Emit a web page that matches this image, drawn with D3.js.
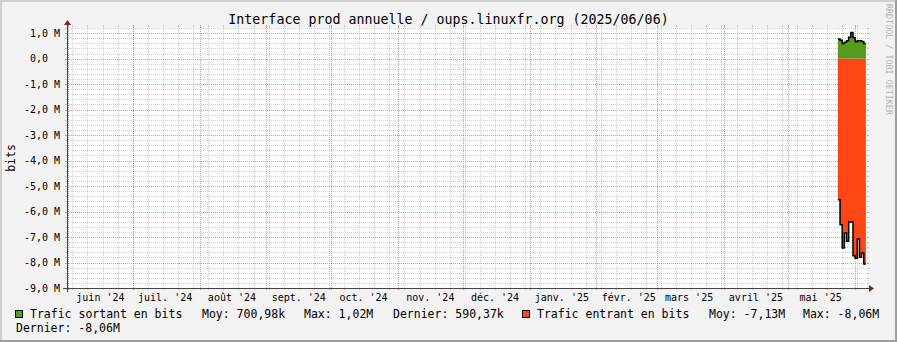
<!DOCTYPE html>
<html>
<head>
<meta charset="utf-8">
<script src="https://cdn.jsdelivr.net/npm/d3@7"></script>
<style>
body { margin: 0; background: #fff; }
svg { display: block; font-family: "DejaVu Sans Mono", monospace; }
text { white-space: pre; }
</style>
</head>
<body>
<script>
// daily samples (UTC dates), values in Mbit
var dates = ["2025-05-24", "2025-05-25", "2025-05-26", "2025-05-27", "2025-05-28", "2025-05-29",
    "2025-05-30", "2025-05-31", "2025-06-01", "2025-06-02", "2025-06-03", "2025-06-04", "2025-06-05"];
var sortant = [0.77, 0.72, 0.59, 0.64, 0.70, 0.84, 1.02, 0.83, 0.66, 0.70, 0.70, 0.67, 0.59];
var entrant = [-5.54, -6.52, -7.43, -6.84, -7.17, -6.41, -6.41, -7.73, -7.83, -7.08, -7.79, -7.63, -8.06];

var monthLabels = ["juin '24", "juil. '24", "août '24", "sept. '24", "oct. '24", "nov. '24",
    "déc. '24", "janv. '25", "févr. '25", "mars '25", "avril '25", "mai '25"];

var legend1 = [
    { x: 30, t: "Trafic sortant en bits" }, { x: 202, t: "Moy: 700,98k" },
    { x: 304, t: "Max: 1,02M" }, { x: 393, t: "Dernier: 590,37k" },
    { x: 537, t: "Trafic entrant en bits" }, { x: 709, t: "Moy: -7,13M" },
    { x: 803, t: "Max: -8,06M" }
];
var legend2 = [{ x: 16, t: "Dernier: -8,06M" }];

var W = 897, H = 342;
var X0 = 67, X1 = 867, Y0 = 288, Y1 = 27;

var parse = d3.utcParse("%Y-%m-%d");
var t0 = new Date(Date.UTC(2024, 4, 31, 12)),
    t1 = new Date(Date.UTC(2025, 5, 6, 12));

var xScale = d3.scaleUtc().domain([t0, t1]).range([X0, X1]);
var yScale = d3.scaleLinear().domain([-9e6, 1.24e6]).range([Y0, Y1]);

var svg = d3.select("body").append("svg")
    .attr("width", W).attr("height", H);

// background + frame
svg.append("rect").attr("width", W).attr("height", H).attr("fill", "#f2f2f2");
svg.append("rect").attr("x", 0).attr("y", 0).attr("width", W).attr("height", 2).attr("fill", "#cfcfcf");
svg.append("rect").attr("x", 0).attr("y", 0).attr("width", 2).attr("height", H).attr("fill", "#cfcfcf");
svg.append("rect").attr("x", W - 2).attr("y", 0).attr("width", 2).attr("height", H).attr("fill", "#9e9e9e");
svg.append("rect").attr("x", 0).attr("y", H - 2).attr("width", W).attr("height", 2).attr("fill", "#9e9e9e");

svg.append("rect").attr("x", X0).attr("y", Y1).attr("width", X1 - X0).attr("height", Y0 - Y1)
    .attr("fill", "#fff");

var grid = svg.append("g").attr("shape-rendering", "crispEdges");
var minorCol = "rgba(143,143,143,0.42)", majorCol = "rgba(222,79,79,0.6)";

// horizontal grid, every 0.2 M, major every 1 M
var hVals = d3.range(-45, 7).map(function (i) { return { v: i * 0.2e6, major: i % 5 === 0 }; });
hVals.forEach(function (d) {
    var py = Math.round(yScale(d.v)) + 0.5;
    var c = d.major ? majorCol : minorCol;
    grid.append("line").attr("x1", X0).attr("x2", X1).attr("y1", py).attr("y2", py)
        .attr("stroke", c).style("stroke-dasharray", "1,1");
    grid.append("line").attr("x1", X0 - 2).attr("x2", X0).attr("y1", py).attr("y2", py).attr("stroke", c);
    grid.append("line").attr("x1", X1).attr("x2", X1 + 2).attr("y1", py).attr("y2", py).attr("stroke", c);
});

// vertical grid: weekly (mondays) minor, monthly major
var weeks = d3.utcMonday.range(t0, t1);
var months = d3.utcMonth.range(t0, t1);
function vline(t, c) {
    var px = Math.round(xScale(t)) + 0.5;
    grid.append("line").attr("x1", px).attr("x2", px).attr("y1", Y1).attr("y2", Y0)
        .attr("stroke", c).style("stroke-dasharray", "1,1");
    grid.append("line").attr("x1", px).attr("x2", px).attr("y1", Y1 - 2).attr("y2", Y1).attr("stroke", c);
    grid.append("line").attr("x1", px).attr("x2", px).attr("y1", Y0).attr("y2", Y0 + 2).attr("stroke", c);
}
weeks.forEach(function (t) { vline(t, minorCol); });
months.forEach(function (t) { if (t > t0) vline(t, majorCol); });

// data
var outPts = dates.map(function (d, i) { return { t: parse(d), v: sortant[i] * 1e6 }; });
var inPts = dates.map(function (d, i) { return { t: parse(d), v: entrant[i] * 1e6 }; });
outPts.push({ t: d3.utcDay.offset(outPts[outPts.length - 1].t, 1), v: outPts[outPts.length - 1].v });
inPts.push({ t: d3.utcDay.offset(inPts[inPts.length - 1].t, 1), v: inPts[inPts.length - 1].v });

var area = d3.area()
    .x(function (d) { return xScale(d.t); })
    .y0(yScale(0))
    .y1(function (d) { return yScale(d.v); })
    .curve(d3.curveStepAfter);
var line = d3.line()
    .x(function (d) { return xScale(d.t); })
    .y(function (d) { return yScale(d.v); })
    .curve(d3.curveStepAfter);

svg.append("path").datum(inPts).attr("d", area).attr("fill", "#ff4614");
svg.append("path").datum(outPts).attr("d", area).attr("fill", "#569a1e");
svg.append("path").datum(outPts).attr("d", line).attr("fill", "none").attr("stroke", "#000").attr("stroke-width", 1.5);
svg.append("path").datum(inPts).attr("d", line).attr("fill", "none").attr("stroke", "#000").attr("stroke-width", 1.5);

// axes
var axis = svg.append("g").attr("shape-rendering", "crispEdges");
axis.append("line").attr("x1", X0 - 4).attr("x2", X1 + 4).attr("y1", Y0 + 0.5).attr("y2", Y0 + 0.5)
    .attr("stroke", "#444");
axis.append("line").attr("x1", X0 + 0.5).attr("x2", X0 + 0.5).attr("y1", Y0 + 4).attr("y2", Y1 - 4)
    .attr("stroke", "#444");
svg.append("path").attr("d", "M" + (X1 + 2) + "," + (Y0 - 3) + "L" + (X1 + 2) + "," + (Y0 + 4) + "L" + (X1 + 7) + "," + (Y0 + 0.5) + "Z")
    .attr("fill", "#801f1f");
svg.append("path").attr("d", "M" + (X0 - 3) + "," + (Y1 - 2) + "L" + (X0 + 4) + "," + (Y1 - 2) + "L" + (X0 + 0.5) + "," + (Y1 - 7) + "Z")
    .attr("fill", "#801f1f");

// y tick labels
hVals.filter(function (d) { return d.major; }).forEach(function (d) {
    var m = d.v / 1e6;
    var s = (m === 0) ? "0,0  " : m.toFixed(1).replace(".", ",") + " M";
    svg.append("text").attr("x", 60).attr("y", yScale(d.v) + 3.5)
        .attr("text-anchor", "end").style("font-size", "10px").attr("fill", "#000").text(s);
});

// x month labels, centred mid-month
months.forEach(function (t, i) {
    svg.append("text").attr("x", xScale(d3.utcDay.offset(t, 15))).attr("y", 301)
        .attr("text-anchor", "middle").style("font-size", "10px").text(monthLabels[i]);
});

// title
svg.append("text").attr("x", W / 2).attr("y", 23.5).attr("text-anchor", "middle")
    .style("font-size", "13.3px").text("Interface prod annuelle / oups.linuxfr.org (2025/06/06)");

// y label
svg.append("text").attr("transform", "translate(14.5,158) rotate(-90)").attr("text-anchor", "middle")
    .style("font-size", "11.5px").text("bits");

// watermark
svg.append("text").attr("transform", "translate(886,4) rotate(90)")
    .style("font-size", "8.4px").attr("fill", "rgba(0,0,0,0.3)").text("RRDTOOL / TOBI OETIKER");

// legend
svg.append("rect").attr("x", 15.5).attr("y", 310.5).attr("width", 7).attr("height", 7)
    .attr("fill", "#569a1e").attr("stroke", "#000");
svg.append("rect").attr("x", 522.5).attr("y", 310.5).attr("width", 7).attr("height", 7)
    .attr("fill", "#ff4614").attr("stroke", "#000");
legend1.forEach(function (d) {
    svg.append("text").attr("x", d.x).attr("y", 318).style("font-size", "11.5px").text(d.t);
});
legend2.forEach(function (d) {
    svg.append("text").attr("x", d.x).attr("y", 332).style("font-size", "11.5px").text(d.t);
});
</script>
</body>
</html>
